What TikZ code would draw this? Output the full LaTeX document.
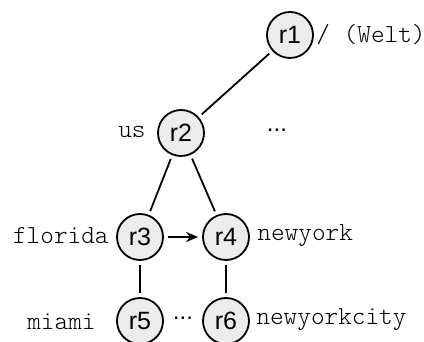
\documentclass[tikz,border=0pt]{standalone}
\usepackage{fontspec}
\setmainfont{Liberation Sans}
\newfontfamily\labelfont{Latin Modern Mono Light}
\usetikzlibrary{arrows.meta}

\tikzset{
  rnode/.style={circle,draw,fill=gray!15,line width=0.9pt,minimum size=23pt,inner sep=0pt,font=\fontsize{12.5}{14}\selectfont},
  rlabel/.style={font=\labelfont\fontsize{13}{15}\selectfont,inner sep=0pt},
  rdots/.style={font=\fontsize{12}{14}\selectfont,inner sep=0pt},
  redge/.style={line width=0.9pt,shorten <=2pt,shorten >=2pt}
}

\begin{document}
\begin{tikzpicture}[x=0.5pt,y=0.5pt]

\useasboundingbox (0,0) rectangle (424,342);

% Knoten
\node[rnode] (r1) at (290,307) {r1};
\node[rnode] (r2) at (181,209) {r2};
\node[rnode] (r3) at (140,105) {r3};
\node[rnode] (r4) at (226,105) {r4};
\node[rnode] (r5) at (140,21) {r5};
\node[rnode] (r6) at (226,21) {r6};

% Beschriftungen
\node[rlabel,anchor=west] (welt) at (316,307) {/ (Welt)};
\node[rlabel,anchor=east] (us) at (146,210) {us};
\node[rdots] (dotsa) at (277,212) {...};
\node[rlabel,anchor=east] (florida) at (109,106) {florida};
\node[rlabel,anchor=west] (newyork) at (257,106) {newyork};
\node[rlabel,anchor=east] (miami) at (96,20) {miami};
\node[rlabel,anchor=west] (newyorkcity) at (256,22) {newyorkcity};
\node[rdots] (dotsb) at (183,24) {...};

% Kanten
\draw[redge] (r1) -- (r2);
\draw[redge] (r2) -- (r3);
\draw[redge] (r2) -- (r4);
\draw[redge] (r3) -- (r5);
\draw[redge] (r4) -- (r6);
\draw[redge,-{Stealth[length=6pt,width=5pt]}] (r3) -- (r4);

\end{tikzpicture}
\end{document}
